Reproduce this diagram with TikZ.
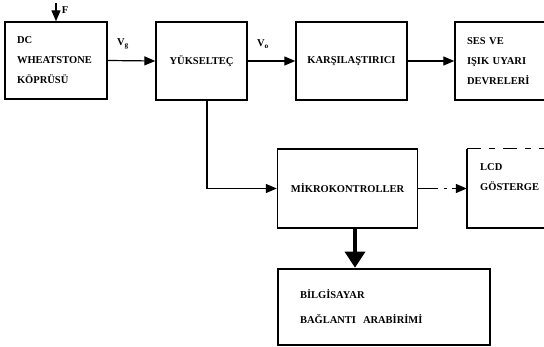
\documentclass[tikz,border=0pt]{standalone}
\usepackage{fontspec}
\setmainfont{Liberation Serif}
\usetikzlibrary{arrows.meta}
\begin{document}
\begin{tikzpicture}[x=1pt,y=-1pt,
  box/.style={draw, line width=1.4pt, inner sep=0pt, align=left,
    font=\fontsize{10.5}{20}\selectfont\bfseries},
  lbl/.style={inner sep=0pt, align=left, font=\fontsize{10.5}{20}\selectfont\bfseries},
  arr/.style={line width=1.2pt, -{Triangle[length=11pt,width=9pt]}},
  thickarr/.style={line width=3.5pt, -{Triangle[length=16pt,width=20pt]}}]
\useasboundingbox (0,0) rectangle (544,347);
\clip (0,0) rectangle (544,347);
% boxes
\node[box, minimum width=102pt, minimum height=77pt, text width=78pt] (b1) at (56,60.5) {DC\\WHEATSTONE\\KÖPRÜSÜ};
\node[box, minimum width=91pt, minimum height=78pt] (b2) at (201.5,61) {YÜKSELTEÇ};
\node[box, minimum width=111pt, minimum height=78pt] (b3) at (351.5,61) {KARŞILAŞTIRICI};
\node[box, minimum width=145pt, minimum height=78pt, text width=121pt] (b4) at (527.5,61) {SES VE\\IŞIK UYARI\\DEVRELERİ};
\node[box, minimum width=140pt, minimum height=79pt] (b5) at (347.5,188.5) {MİKROKONTROLLER};
\node[inner sep=0pt, minimum width=133pt, minimum height=79pt] (b6) at (533.5,188.5) {};
\draw[line width=1.4pt] (b6.north west) -- (b6.south west) -- (b6.south east);
\draw[line width=1.4pt, dash pattern=on 14pt off 8pt on 6pt off 8pt] (b6.north west) -- (b6.north east);
\node[lbl, anchor=west] (b6t) at (480,177) {LCD\\GÖSTERGE};
\node[box, line width=2.6pt, minimum width=212pt, minimum height=76pt, text width=168pt,
  font=\fontsize{10.5}{25}\selectfont\bfseries] (b7) at (384,307) {BİLGİSAYAR\\BAĞLANTI\ \ ARABİRİMİ};
% labels
\coordinate (fsrc) at (56,3);
\node[lbl] (flab) at (65,10) {F};
\node[lbl] (vg) at (123,44) {V\textsubscript{g}};
\node[lbl] (vo) at (263,44) {V\textsubscript{o}};
% connectors
\draw[arr] (fsrc) -- (b1.north);
\draw[arr] (b1.east) -- (b2.west);
\draw[arr] (b2.east) -- (b3.west);
\draw[arr] (b3.east) -- (b4.west);
\draw[arr] ([xshift=5.5pt]b2.south) |- (b5.west);
\draw[arr, dash pattern=on 20pt off 6pt on 3pt off 5pt on 20pt] (b5.east) -- (b6.west);
\draw[thickarr] ([xshift=7.5pt]b5.south) -- ([xshift=7.5pt]b5.south |- b7.north);
\end{tikzpicture}
\end{document}
